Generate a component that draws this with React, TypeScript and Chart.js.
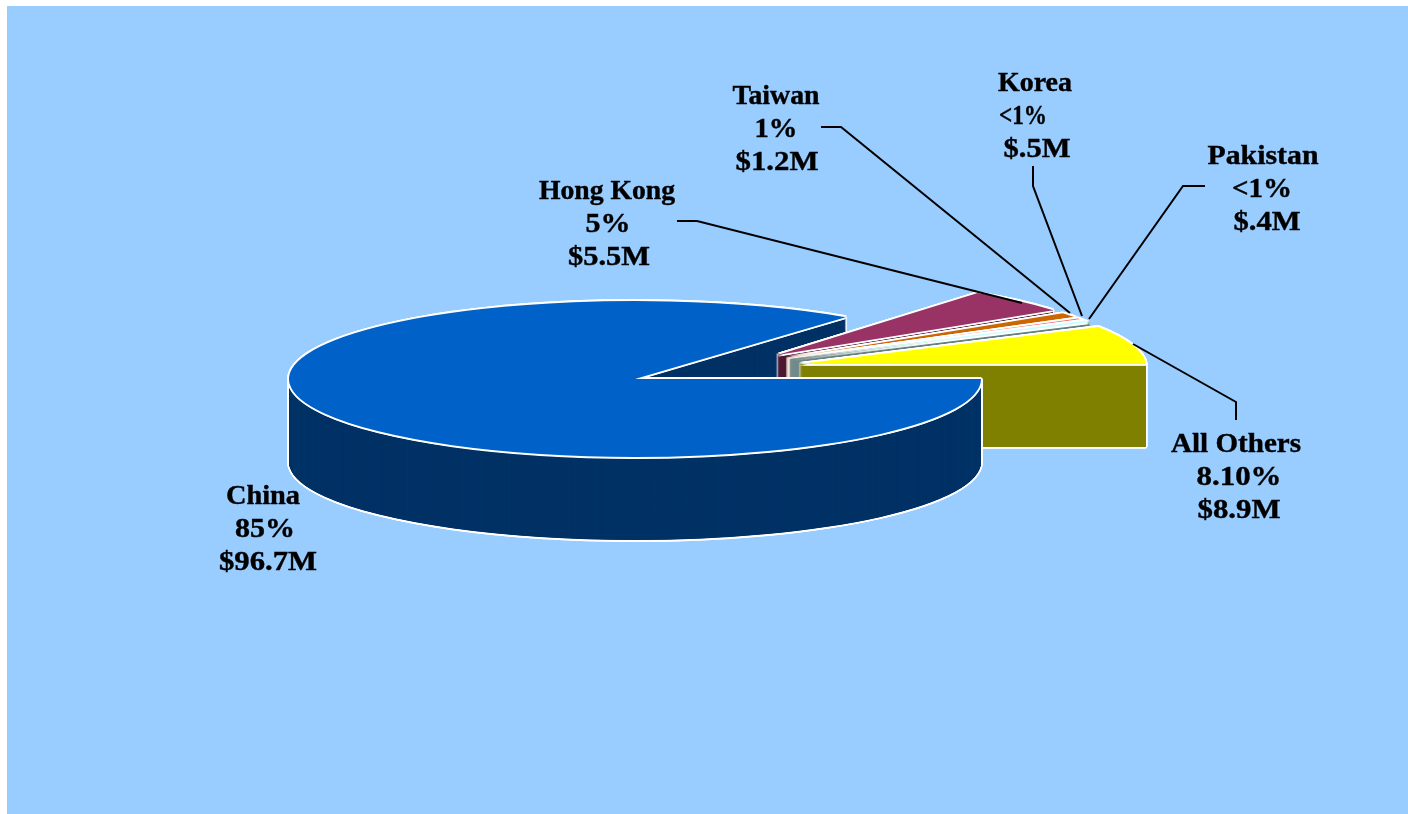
import React, { useEffect, useRef } from "react";
import { Chart, registerables } from "chart.js";

Chart.register(...registerables);

const categories = ["China", "Hong Kong", "Taiwan", "Korea", "Pakistan", "All Others"];
const valuesMillions = [96.7, 5.5, 1.2, 0.5, 0.4, 8.9];
const shareLabels = ["85%", "5%", "1%", "<1%", "<1%", "8.10%"];
const moneyLabels = ["$96.7M", "$5.5M", "$1.2M", "$.5M", "$.4M", "$8.9M"];
const topColors = ["#0061C9", "#993366", "#CC6600", "#FF6666", "#CCFFFF", "#FFFF00"];
const wallColors = ["#003366", "#4D1A33", "#EED9C4", "#FFF0F0", "#668080", "#808000"];

// Projection of the flat pie on the page
const CX = 635, CY = 379, RX = 346, RY = 78, DEPTH = 83;
const EXPLODE = 178; // radial pull of the slices other than the first
const SHEAR = 0.17; // perspective lean of the pulled-out slices
const OUTLINE = 1.9;

// Text placement: per category, line centres, line widths and first baseline
const labelLayout = [
  { xs: [263, 265, 268], ws: [74, 60, 98], y: 504 },
  { xs: [607, 608, 609], ws: [136, 45, 82], y: 199 },
  { xs: [776, 776, 777], ws: [87, 43, 83], y: 104 },
  { xs: [1035, 1023, 1037], ws: [74, 48, 67], y: 91 },
  { xs: [1263, 1262, 1267], ws: [111, 60, 67], y: 164 },
  { xs: [1236, 1239, 1239], ws: [130, 85, 83], y: 452 },
];
// Callout leader lines, one polyline per labelled slice
const leaders = [
  [[677, 221], [697, 221], [1022, 303]],
  [[821, 127], [841, 127], [1070, 313]],
  [[1033, 166], [1033, 186], [1082, 316]],
  [[1205, 186], [1183, 186], [1089, 319]],
  [[1236, 420], [1236, 402], [1133, 344]],
];

function withOpts(el: any, over: any, fn: () => void) {
  const saved = el.options;
  el.options = { ...saved, ...over };
  fn();
  el.options = saved;
}

const pie3d = {
  id: "pie3d",
  beforeDraw(chart: any) {
    const { ctx } = chart;
    ctx.save();
    ctx.fillStyle = "#FFFFFF";
    ctx.fillRect(0, 0, chart.width, chart.height);
    ctx.fillStyle = "#99CCFF";
    ctx.fillRect(7, 6, chart.width - 7, chart.height - 6);
    ctx.restore();
  },
  beforeDatasetsDraw(chart: any) {
    const { ctx } = chart;
    const arcs = chart.getDatasetMeta(0).data;

    const place = (el: any, i: number, sx: number, sy: number) => {
      let ox = 0, oy = 0;
      if (i > 0) {
        const mid = ((-(el.startAngle + el.endAngle) / 2) * 180) / Math.PI;
        const up = ((mid % 360) + 360) % 360;
        const a = ((15 + 0.5 * up) * Math.PI) / 180;
        ox = EXPLODE * Math.cos(a);
        oy = (-EXPLODE * Math.sin(a) * RY) / RX;
      }
      const R = el.outerRadius;
      ctx.translate(CX + ox + sx, CY + oy + sy);
      if (i > 0) ctx.transform(1, 0, SHEAR, 1, 0, 0);
      ctx.scale(RX / R, RY / R);
      ctx.translate(-el.x, -el.y);
    };
    const stamp = (el: any, i: number, color: string, sx: number, sy: number, bw = 0) => {
      ctx.save();
      place(el, i, sx, sy);
      withOpts(el, { backgroundColor: color, borderColor: color, borderWidth: bw }, () => el.draw(ctx));
      ctx.restore();
    };
    const dirs = [[1, 0], [-1, 0], [0, 1], [0, -1], [0.7, 0.7], [-0.7, 0.7], [0.7, -0.7], [-0.7, -0.7]];
    const slice = (el: any, i: number) => {
      for (let k = DEPTH; k >= 0; k -= 1) {
        for (const [dx, dy] of dirs) stamp(el, i, "#FFFFFF", dx * OUTLINE, k + dy * OUTLINE);
      }
      // the thinnest slices get a stroked wall so it still builds up solid
      const thin = i >= 2 && i <= 4;
      const step = i === 0 ? 0.25 : thin ? 0.5 : 0.1;
      for (let k = DEPTH; k >= 0; k -= step) stamp(el, i, wallColors[i], 0, k, thin ? 4 : 0);
      for (const [dx, dy] of dirs) stamp(el, i, "#FFFFFF", dx * OUTLINE, dy * OUTLINE);
      stamp(el, i, topColors[i], 0, 0);
    };

    slice(arcs[0], 0);
    for (let i = 1; i < arcs.length; i++) slice(arcs[i], i);
    ctx.save();
    ctx.beginPath();
    ctx.rect(0, CY - 2, chart.width, chart.height);
    ctx.clip();
    slice(arcs[0], 0);
    ctx.restore();

    // leaders
    ctx.save();
    ctx.strokeStyle = "#000000";
    ctx.lineWidth = 2;
    for (const line of leaders) {
      ctx.beginPath();
      line.forEach(([x, y], n) => (n ? ctx.lineTo(x, y) : ctx.moveTo(x, y)));
      ctx.stroke();
    }
    // labels
    ctx.fillStyle = "#000000";
    ctx.strokeStyle = "#000000";
    ctx.lineWidth = 0.4;
    ctx.font = 'bold 27.5px "Liberation Serif"';
    ctx.textAlign = "center";
    ctx.textBaseline = "alphabetic";
    categories.forEach((name, i) => {
      const { xs, ws, y } = labelLayout[i];
      [name, shareLabels[i], moneyLabels[i]].forEach((t, n) => {
        ctx.save();
        ctx.translate(xs[n], y + n * 33);
        ctx.scale(ws[n] / ctx.measureText(t).width, 1);
        ctx.fillText(t, 0, 0);
        ctx.strokeText(t, 0, 0);
        ctx.restore();
      });
    });
    ctx.restore();
    return false;
  },
};

export default function App() {
  const ref = useRef<HTMLCanvasElement>(null);
  useEffect(() => {
    const chart = new Chart(ref.current!, {
      type: "pie",
      data: {
        labels: categories,
        datasets: [{ data: valuesMillions, backgroundColor: topColors, borderWidth: 0 }],
      },
      options: {
        animation: false,
        responsive: false,
        rotation: 90,
        plugins: { legend: { display: false }, tooltip: { enabled: false } },
      },
      plugins: [pie3d],
    });
    return () => chart.destroy();
  }, []);
  return (
    <div style={{ position: "fixed", left: 0, top: 0, width: 1408, height: 814 }}>
      <canvas ref={ref} width={1408} height={814} style={{ display: "block" }} />
    </div>
  );
}
